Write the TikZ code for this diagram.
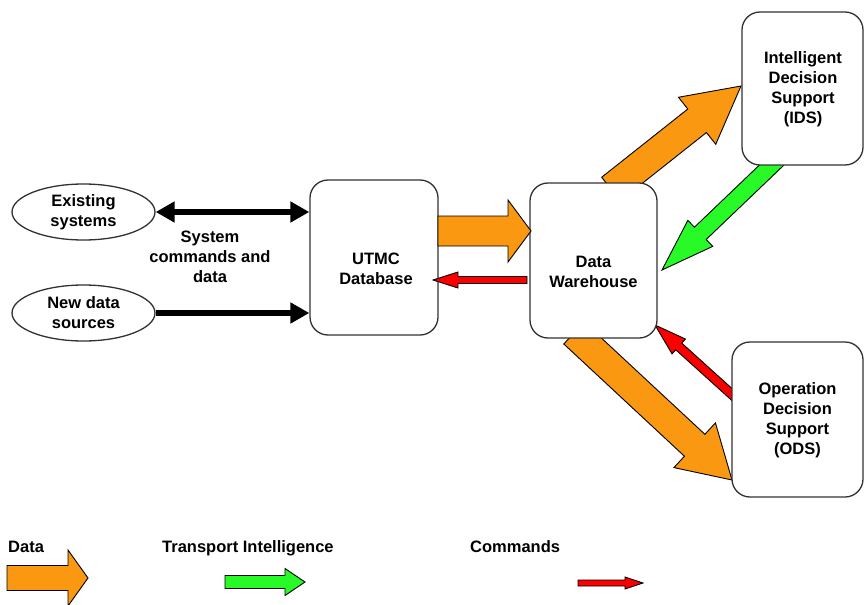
\documentclass[tikz,border=0pt]{standalone}
\usepackage{fontspec}
\setmainfont{Liberation Sans}
\usetikzlibrary{calc,arrows.meta,shapes.geometric}
\definecolor{orangeC}{RGB}{250,152,18}
\definecolor{greenC}{RGB}{40,250,40}
\definecolor{redC}{RGB}{250,0,0}
\definecolor{edgeC}{RGB}{50,50,50}
\newcommand\fatarr[6]{%
  \coordinate (fa-q) at ($(#2)!#5!(#1)$);
  \filldraw[fatline,fill=#6]
    ($(#1)!#3/2!90:(#2)$) -- ($(fa-q)!#3/2!90:(#2)$) -- ($(fa-q)!#4/2!90:(#2)$) -- (#2)
    -- ($(fa-q)!#4/2!-90:(#2)$) -- ($(fa-q)!#3/2!-90:(#2)$) -- ($(#1)!#3/2!-90:(#2)$) -- cycle;
}
\begin{document}
\begin{tikzpicture}[x=1pt,y=-1pt,
  txt/.style={font=\fontsize{16.5}{20}\selectfont\bfseries, align=center, inner sep=0pt},
  box/.style={draw=edgeC, line width=1.3pt, rounded corners=18pt, fill=white},
  ell/.style={ellipse, draw=edgeC, line width=1.3pt, fill=white, inner sep=0pt, minimum width=143pt, minimum height=56pt},
  fatline/.style={draw=black, line width=0.9pt, line join=miter},
  blk/.style={line width=6pt, -{Triangle[length=19pt,width=20pt]}},
  blkd/.style={line width=6pt, {Triangle[length=19pt,width=20pt]}-{Triangle[length=19pt,width=20pt]}},
]
\useasboundingbox (0,0) rectangle (865,605);
\fill[white] (0,0) rectangle (865,605);

% arrow end points
\coordinate (idsTail) at (611,189);
\coordinate (idsTip) at (741,86);
\coordinate (odsTail) at (574,333);
\coordinate (odsTip) at (732,480);
\coordinate (gTail) at (778,159);
\coordinate (gTip) at (662,270);
\coordinate (cTail) at (738,400);
\coordinate (cTip) at (655,325);
\coordinate (uTail) at (438,231);
\coordinate (uTip) at (531,231);
\coordinate (rTail) at (527,280);
\coordinate (rTip) at (433,280);

% arrows partly hidden behind boxes
\fatarr{idsTail}{idsTip}{30pt}{60pt}{56pt}{orangeC}
\fatarr{odsTail}{odsTip}{30pt}{61pt}{51pt}{orangeC}
\fatarr{gTail}{gTip}{17pt}{36pt}{53pt}{greenC}
\fatarr{cTail}{cTip}{9pt}{20pt}{32pt}{redC}

% nodes
\node[ell] (ex) at (83.5,212) {};
\node[txt] (exT) at (83.5,212) {Existing\\systems};
\node[ell] (nd) at (83.5,313) {};
\node[txt] (ndT) at (83.5,313) {New data\\sources};
\node[box, minimum width=128pt, minimum height=155pt] (utmc) at (374,257.5) {};
\node[txt] (utmcT) at (376,269) {UTMC\\Database};
\node[box, minimum width=127pt, minimum height=155pt] (dw) at (593.5,260.5) {};
\node[txt] (dwT) at (593.5,272) {Data\\Warehouse};
\node[box, minimum width=121pt, minimum height=153pt] (ids) at (802.5,88.5) {};
\node[txt] (idsT) at (803,89) {Intelligent\\Decision\\Support\\(IDS)};
\node[box, minimum width=131pt, minimum height=155pt] (ods) at (797.5,419.5) {};
\node[txt] (odsT) at (797.5,420.5) {Operation\\Decision\\Support\\(ODS)};

\node[txt] (sys) at (210,257) {System\\commands and\\data};

% black connectors
\draw[blkd] (ex.east) -- (utmc.west |- ex.east);
\draw[blk] (nd.east) -- (utmc.west |- nd.east);

% arrows on top of boxes
\fatarr{uTail}{uTip}{30pt}{62pt}{23pt}{orangeC}
\fatarr{rTail}{rTip}{7pt}{16pt}{25pt}{redC}

% legend
\node[txt, anchor=base west] (lgD) at (8,552) {Data};
\node[txt, anchor=base west] (lgT) at (162,552) {Transport Intelligence};
\node[txt, anchor=base west] (lgC) at (470,552) {Commands};
\coordinate (lDa) at (7,578);
\coordinate (lDb) at (88,578);
\coordinate (lTa) at (225,582);
\coordinate (lTb) at (305,582);
\coordinate (lCa) at (578,583);
\coordinate (lCb) at (643,583);
\fatarr{lDa}{lDb}{25pt}{56pt}{20pt}{orangeC}
\fatarr{lTa}{lTb}{13pt}{27pt}{20pt}{greenC}
\fatarr{lCa}{lCb}{6pt}{12pt}{18pt}{redC}
\end{tikzpicture}
\end{document}
